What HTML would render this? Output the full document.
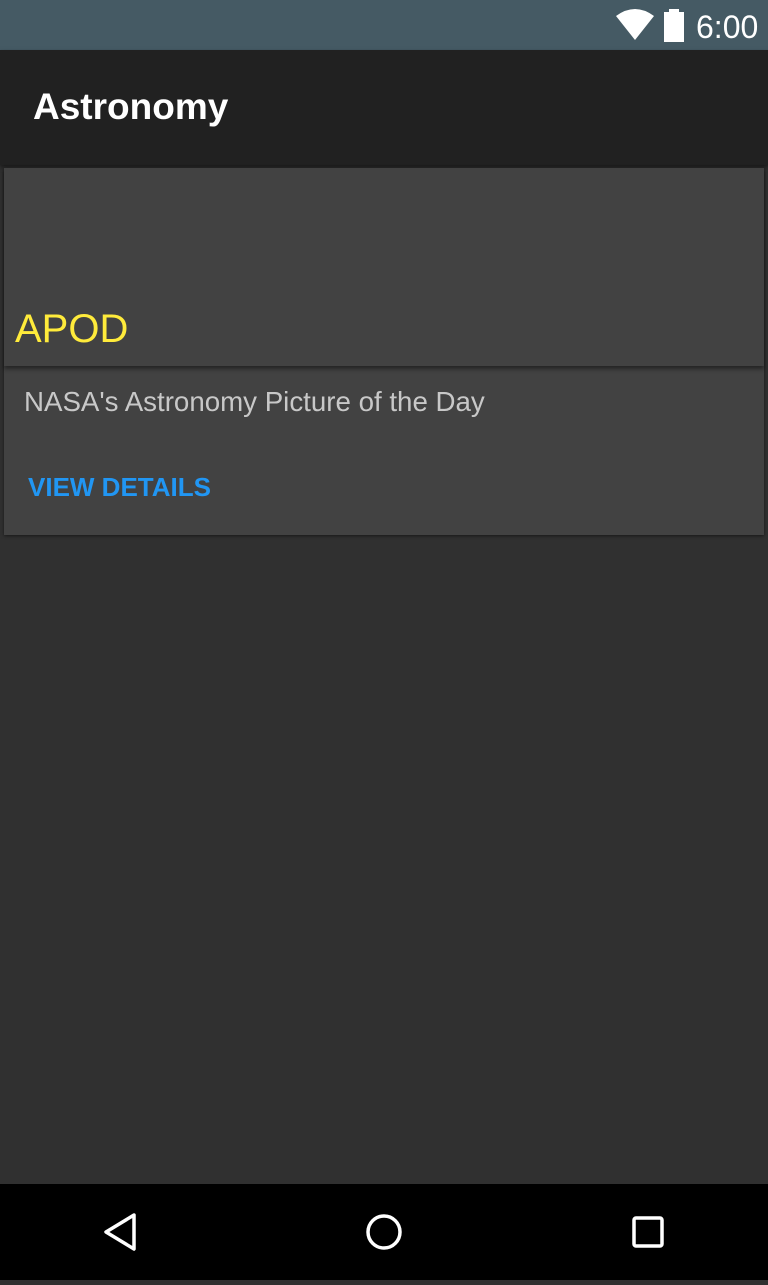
<!DOCTYPE html>
<html><head><meta charset="utf-8"><style>
html,body{margin:0;padding:0;width:768px;height:1280px;overflow:hidden;background:#303030;font-family:"Liberation Sans",sans-serif;}
.sb{position:absolute;left:0;top:0;width:768px;height:50px;background:#455a64;}
.tb{position:absolute;left:0;top:50px;width:768px;height:115px;background:#212121;box-shadow:0 2px 4px rgba(0,0,0,.5);}
.title{position:absolute;left:33px;top:36px;color:#fff;font-size:37px;font-weight:bold;}
.card{position:absolute;left:4px;top:168px;width:760px;height:367px;background:#424242;box-shadow:0 1px 3px rgba(0,0,0,.5);}
.img{position:absolute;left:0;top:0;width:760px;height:198px;background:#424242;box-shadow:0 3px 4px rgba(0,0,0,.45);}
.apod{position:absolute;left:11px;top:139px;color:#ffeb3b;font-size:40px;}
.desc{position:absolute;left:20px;top:218px;color:#c8c8c8;font-size:27.7px;}
.btn{position:absolute;left:24px;top:304px;color:#2196f3;font-size:26px;font-weight:bold;}
.nav{position:absolute;left:0;top:1184px;width:768px;height:96px;background:#000;}
</style></head><body>
<div class="sb">
<svg width="768" height="50" style="position:absolute;left:0;top:0">
<path d="M616 16 Q635 2 654 16 L635 40 Z" fill="#fff"/>
<rect x="664" y="12" width="20" height="30" fill="#fff"/>
<rect x="669" y="9" width="10" height="4" fill="#fff"/>
<text x="696" y="38" fill="#fff" font-size="32" font-family="Liberation Sans">6:00</text>
</svg></div>
<div class="tb"><div class="title">Astronomy</div></div>
<div class="card">
<div class="img"><div class="apod">APOD</div></div>
<div class="desc">NASA's Astronomy Picture of the Day</div>
<div class="btn">VIEW DETAILS</div>
</div>
<div class="nav">
<svg width="768" height="96">
<path d="M134 31 L106 48 L134 65 Z" fill="none" stroke="#fff" stroke-width="3.5" stroke-linejoin="round"/>
<circle cx="384" cy="48" r="16" fill="none" stroke="#fff" stroke-width="3.5"/>
<rect x="634" y="34" width="28" height="28" rx="2" fill="none" stroke="#fff" stroke-width="3.5"/>
</svg></div>
</body></html>
